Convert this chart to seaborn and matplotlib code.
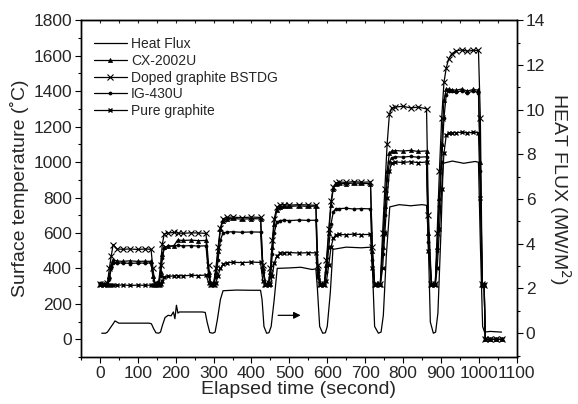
import matplotlib
matplotlib.use("Agg")
import matplotlib.pyplot as plt
from matplotlib.ticker import MultipleLocator
import seaborn as sns

# shared time grid (s) for the four temperature traces
time = [0, 10, 20,
        25, 30, 35,
        45, 60, 80, 100, 120, 135,
        140,
        145, 150, 155,
        160, 165, 170,
        180, 195, 205, 220, 240, 260, 280,
        287,
        292, 300,
        306, 312, 318, 325,
        335, 350, 375, 400, 424,
        430,
        437, 445,
        450, 455, 460, 467, 475,
        485, 500, 525, 550, 570,
        575,
        582, 592,
        598, 604, 610, 616, 622,
        630, 650, 670, 690, 714,
        719,
        725, 740,
        746, 752, 758, 764, 770,
        780, 800, 820, 840, 862,
        867,
        875, 885,
        890, 896, 902, 908, 914, 920, 928,
        940, 955, 970, 985, 999,
        1004,
        1009, 1014,
        1017, 1030, 1045, 1060]

cx2002u = [310, 315, 312,
           360, 420, 450,
           442, 440, 443, 440, 441, 440,
           360,
           312, 310, 315,
           380, 480, 520,
           525, 527, 560, 558, 560, 557, 558,
           380,
           315, 310,
           380, 500, 620, 670,
           680, 682, 678, 681, 680,
           400,
           315, 312,
           380, 520, 650, 730, 748,
           752, 750, 753, 750, 752,
           400,
           312, 315,
           420, 600, 760, 850, 875,
           880, 878, 882, 880, 878,
           500,
           312, 315,
           520, 750, 950, 1050, 1062,
           1065, 1062, 1066, 1060, 1063,
           600,
           312, 315,
           520, 800, 1100, 1350, 1410, 1412, 1408,
           1405, 1412, 1400, 1410, 1405,
           1000,
           310, 310,
           0, 0, 0, 0]

bstdg = [315, 312, 318,
         400, 470, 535,
         510, 508, 510, 507, 510, 508,
         400,
         318, 312, 315,
         420, 540, 595,
         600, 603, 600, 598, 601, 600, 598,
         420,
         312, 315,
         400, 520, 630, 680,
         688, 690, 686, 690, 688,
         420,
         312, 318,
         400, 560, 680, 745, 758,
         760, 757, 760, 758, 756,
         420,
         315, 312,
         450, 620, 780, 860, 880,
         888, 885, 890, 886, 888,
         520,
         315, 312,
         600, 850, 1100, 1270, 1305,
         1310, 1315, 1305, 1310, 1300,
         700,
         315, 310,
         600, 950, 1250, 1450, 1530, 1580, 1610,
         1628, 1632, 1625, 1630, 1630,
         1250,
         310, 305,
         0, 0, 0, 0]

ig430u = [318, 310, 315,
          340, 400, 432,
          430, 432, 428, 431, 430, 432,
          350,
          310, 315, 312,
          360, 460, 515,
          525, 528, 530, 527, 529, 526, 528,
          360,
          310, 312,
          350, 450, 560, 600,
          605, 607, 604, 606, 605,
          380,
          310, 315,
          350, 480, 600, 660, 670,
          672, 670, 673, 671, 672,
          380,
          310, 312,
          380, 520, 650, 720, 735,
          737, 740, 735, 738, 736,
          450,
          310, 312,
          480, 700, 900, 1000, 1025,
          1030, 1028, 1032, 1027, 1030,
          550,
          312, 310,
          500, 750, 1000, 1250, 1380, 1400, 1398,
          1395, 1402, 1390, 1400, 1392,
          950,
          312, 312,
          0, 0, 0, 0]

pure_graphite = [305, 308, 305,
                 305, 306, 305,
                 305, 307, 304, 306, 305, 306,
                 305,
                 305, 306, 304,
                 310, 330, 350,
                 355, 358, 360, 358, 362, 360, 363,
                 320,
                 305, 306,
                 320, 360, 400, 425,
                 432, 435, 433, 436, 434,
                 330,
                 305, 306,
                 310, 360, 430, 470, 485,
                 488, 490, 487, 489, 488,
                 350,
                 306, 305,
                 330, 420, 520, 570, 588,
                 592, 590, 594, 591, 592,
                 400,
                 306, 305,
                 400, 600, 800, 950, 995,
                 1000, 998, 1002, 997, 1000,
                 500,
                 306, 305,
                 400, 620, 850, 1050, 1150, 1165, 1166,
                 1166, 1168, 1165, 1167, 1166,
                 800,
                 306, 305,
                 0, 0, 0, 0]

# heat flux trace (MW/m^2), right axis
hf_time = [5, 15, 20, 28, 35, 40, 50, 80, 110, 130, 136, 142, 148, 155,
           160, 165, 172, 180, 188, 194, 198, 202, 206, 210, 240, 270, 278,
           283, 290, 298, 304, 310, 318, 325, 360, 400, 424, 428, 433, 440,
           446, 452, 460, 468, 500, 530, 560, 570, 574, 580, 588, 595, 600,
           608, 615, 650, 690, 715, 719, 725, 735, 742, 748, 756, 765, 790,
           820, 850, 862, 866, 872, 880, 886, 892, 900, 906, 930, 960, 990,
           999, 1004, 1010, 1015, 1030, 1060]
heat_flux = [0.0, 0.0, 0.05, 0.25, 0.42, 0.55, 0.45, 0.45, 0.45, 0.45, 0.42,
             0.2, 0.02, 0.0,
             0.05, 0.35, 0.7, 0.8, 0.78, 0.95, 0.65, 1.25, 0.9, 0.95, 0.95,
             0.95, 0.93,
             0.5, 0.03, 0.0, 0.05, 0.6, 1.5, 1.9, 1.93, 1.92, 1.92, 1.5, 0.3,
             0.0,
             0.02, 0.3, 1.5, 2.9, 2.92, 2.95, 2.85, 2.88, 2.0, 0.3, 0.0, 0.02,
             0.3,
             1.8, 3.75, 3.85, 3.82, 3.85, 3.0, 0.3, 0.0, 0.05, 0.8, 3.5, 5.65,
             5.75,
             5.7, 5.75, 5.72, 4.5, 0.5, 0.0, 0.05, 0.9, 4.5, 7.6, 7.7, 7.6,
             7.68,
             7.65, 4.0, 0.3, 0.05, 0.08, 0.05]

sns.set_style("ticks")
plt.rcParams["font.family"] = ["Liberation Sans", "DejaVu Sans"]

fig, ax = plt.subplots(figsize=(5.78, 4.04), dpi=100)
fig.subplots_adjust(left=0.140, right=0.894, top=0.950, bottom=0.116)
ax2 = ax.twinx()

lw = 0.9
sns.lineplot(x=time, y=cx2002u, ax=ax, color="black", lw=lw, marker="^",
             markersize=3, markeredgecolor="black", markeredgewidth=0.5,
             label="CX-2002U")
sns.lineplot(x=time, y=bstdg, ax=ax, color="black", lw=lw, marker="x",
             markersize=4, markeredgecolor="black", markeredgewidth=0.8,
             label="Doped graphite BSTDG")
sns.lineplot(x=time, y=ig430u, ax=ax, color="black", lw=lw, marker="o",
             markersize=2.2, markeredgecolor="black", markeredgewidth=0.5,
             label="IG-430U")
sns.lineplot(x=time, y=pure_graphite, ax=ax, color="black", lw=lw, marker="x",
             markersize=2.8, markeredgecolor="black", markeredgewidth=1.0,
             label="Pure graphite")
sns.lineplot(x=hf_time, y=heat_flux, ax=ax2, color="black", lw=lw,
             label="Heat Flux")

if ax.get_legend() is not None:
    ax.get_legend().remove()

ax2.annotate("", xy=(537, 0.8), xytext=(463, 0.8),
             arrowprops=dict(arrowstyle="-|>", color="black", lw=0.9,
                             mutation_scale=10))

ax.set_xlim(-50, 1100)
ax.set_ylim(-100, 1800)
ax2.set_ylim(-1.07, 14)

ax.xaxis.set_major_locator(MultipleLocator(100))
ax.xaxis.set_minor_locator(MultipleLocator(50))
ax.yaxis.set_major_locator(MultipleLocator(200))
ax.yaxis.set_minor_locator(MultipleLocator(100))
ax2.yaxis.set_major_locator(MultipleLocator(2))
ax2.yaxis.set_minor_locator(MultipleLocator(1))

for a in (ax, ax2):
    a.tick_params(which="major", direction="out", length=4, width=0.8,
                  labelsize=12.5, color="black", pad=2.5)
    a.tick_params(which="minor", direction="out", length=2.5, width=0.8,
                  color="black")
    for s in a.spines.values():
        s.set_visible(True)
        s.set_linewidth(1.0)
        s.set_color("black")

top = ax.secondary_xaxis("top")
top.xaxis.set_major_locator(MultipleLocator(100))
top.xaxis.set_minor_locator(MultipleLocator(50))
top.tick_params(which="both", direction="in", length=2.5, width=0.8,
                labeltop=False)

ax.set_xlabel("Elapsed time (second)", fontsize=14, labelpad=0)
ax.set_ylabel("Surface temperature (˚C)", fontsize=14, labelpad=3)
ax2.set_ylabel("HEAT FLUX (MW/M$^2$)", fontsize=14, rotation=270, labelpad=20)

h1, l1 = ax.get_legend_handles_labels()
h2, l2 = ax2.get_legend_handles_labels()
ax2.legend(h2 + h1, l2 + l1, loc="upper left", bbox_to_anchor=(0.01, 0.975),
           frameon=False, fontsize=10, handlelength=2.4, handletextpad=0.3,
           labelspacing=0.2, borderaxespad=0.2)

fig.savefig("out.png", dpi=100)
